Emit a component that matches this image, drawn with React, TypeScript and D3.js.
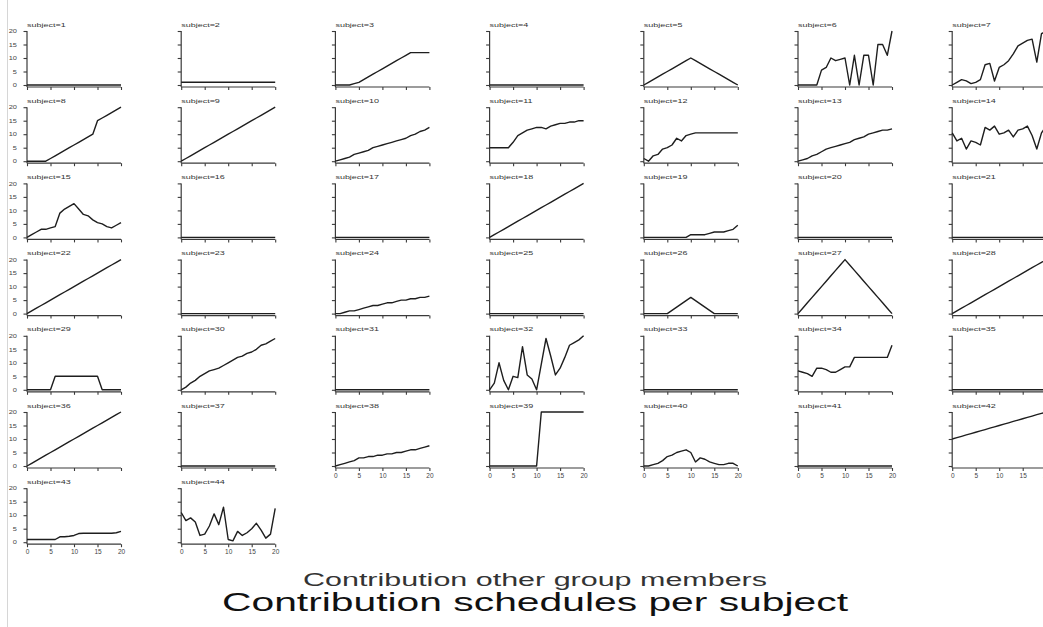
import React, { useEffect, useRef } from 'react';
import * as d3 from 'd3';

// contribution of the other group members (x)
const others = [0, 1, 2, 3, 4, 5, 6, 7, 8, 9, 10, 11, 12, 13, 14, 15, 16, 17, 18, 19, 20];
const xTicks = [0, 5, 10, 15, 20];
const yTicks = [0, 5, 10, 15, 20];

// own contribution per subject
const s1 = [0, 0, 0, 0, 0, 0, 0, 0, 0, 0, 0, 0, 0, 0, 0, 0, 0, 0, 0, 0, 0];
const s2 = [1, 1, 1, 1, 1, 1, 1, 1, 1, 1, 1, 1, 1, 1, 1, 1, 1, 1, 1, 1, 1];
const s3 = [0, 0, 0, 0, 0.5, 1, 2, 3, 4, 5, 6, 7, 8, 9, 10, 11, 12, 12, 12, 12, 12];
const s4 = [0, 0, 0, 0, 0, 0, 0, 0, 0, 0, 0, 0, 0, 0, 0, 0, 0, 0, 0, 0, 0];
const s5 = [0, 1, 2, 3, 4, 5, 6, 7, 8, 9, 10, 9, 8, 7, 6, 5, 4, 3, 2, 1, 0];
const s6 = [0, 0, 0, 0, 0, 5.5, 6.5, 10, 9, 9.5, 10, 0, 11, 0, 11, 11, 0, 15, 15, 11, 20];
const s7 = [0, 1, 2, 1.5, 0.5, 1, 2, 7.5, 8, 1.5, 6.5, 7.5, 9, 11.5, 14.5, 15.5, 16.5, 17, 8.5, 19, 20];
const s8 = [0, 0, 0, 0, 0, 1, 2, 3, 4, 5, 6, 7, 8, 9, 10, 15, 16, 17, 18, 19, 20];
const s9 = [0, 1, 2, 3, 4, 5, 6, 7, 8, 9, 10, 11, 12, 13, 14, 15, 16, 17, 18, 19, 20];
const s10 = [0, 0.5, 1, 1.5, 2.5, 3, 3.5, 4, 5, 5.5, 6, 6.5, 7, 7.5, 8, 8.5, 9.5, 10, 11, 11.5, 12.5];
const s11 = [5, 5, 5, 5, 5, 7, 9.5, 10.5, 11.5, 12, 12.5, 12.5, 12, 13, 13.5, 14, 14, 14.5, 14.5, 15, 15];
const s12 = [1, 0, 2, 2.5, 4.5, 5, 6, 8.5, 7.5, 9.5, 10, 10.5, 10.5, 10.5, 10.5, 10.5, 10.5, 10.5, 10.5, 10.5, 10.5];
const s13 = [0, 0.5, 1, 2, 2.5, 3.5, 4.5, 5, 5.5, 6, 6.5, 7, 8, 8.5, 9, 10, 10.5, 11, 11.5, 11.5, 12];
const s14 = [10.5, 7.5, 8.5, 4.5, 7.5, 7, 6, 12.5, 11.5, 13, 10, 10.5, 11.5, 9, 11.5, 12, 13, 9.5, 4.5, 10.5, 13];
const s15 = [0, 1, 2, 3, 3, 3.5, 4, 9, 10.5, 11.5, 12.5, 10.5, 8.5, 8, 6.5, 5.5, 5, 4, 3.5, 4.5, 5.5];
const s16 = [0, 0, 0, 0, 0, 0, 0, 0, 0, 0, 0, 0, 0, 0, 0, 0, 0, 0, 0, 0, 0];
const s17 = [0, 0, 0, 0, 0, 0, 0, 0, 0, 0, 0, 0, 0, 0, 0, 0, 0, 0, 0, 0, 0];
const s18 = [0, 1, 2, 3, 4, 5, 6, 7, 8, 9, 10, 11, 12, 13, 14, 15, 16, 17, 18, 19, 20];
const s19 = [0, 0, 0, 0, 0, 0, 0, 0, 0, 0, 1, 1, 1, 1, 1.5, 2, 2, 2, 2.5, 3, 4.5];
const s20 = [0, 0, 0, 0, 0, 0, 0, 0, 0, 0, 0, 0, 0, 0, 0, 0, 0, 0, 0, 0, 0];
const s21 = [0, 0, 0, 0, 0, 0, 0, 0, 0, 0, 0, 0, 0, 0, 0, 0, 0, 0, 0, 0, 0];
const s22 = [0, 1, 2, 3, 4, 5, 6, 7, 8, 9, 10, 11, 12, 13, 14, 15, 16, 17, 18, 19, 20];
const s23 = [0, 0, 0, 0, 0, 0, 0, 0, 0, 0, 0, 0, 0, 0, 0, 0, 0, 0, 0, 0, 0];
const s24 = [0, 0, 0.5, 1, 1, 1.5, 2, 2.5, 3, 3, 3.5, 4, 4, 4.5, 5, 5, 5.5, 5.5, 6, 6, 6.5];
const s25 = [0, 0, 0, 0, 0, 0, 0, 0, 0, 0, 0, 0, 0, 0, 0, 0, 0, 0, 0, 0, 0];
const s26 = [0, 0, 0, 0, 0, 0, 1.2, 2.4, 3.6, 4.8, 6, 4.8, 3.6, 2.4, 1.2, 0, 0, 0, 0, 0, 0];
const s27 = [0, 2, 4, 6, 8, 10, 12, 14, 16, 18, 20, 18, 16, 14, 12, 10, 8, 6, 4, 2, 0];
const s28 = [0, 1, 2, 3, 4, 5, 6, 7, 8, 9, 10, 11, 12, 13, 14, 15, 16, 17, 18, 19, 20];
const s29 = [0, 0, 0, 0, 0, 0, 5, 5, 5, 5, 5, 5, 5, 5, 5, 5, 0, 0, 0, 0, 0];
const s30 = [0, 1, 2.5, 3.5, 5, 6, 7, 7.5, 8, 9, 10, 11, 12, 12.5, 13.5, 14, 15, 16.5, 17, 18, 19];
const s31 = [0, 0, 0, 0, 0, 0, 0, 0, 0, 0, 0, 0, 0, 0, 0, 0, 0, 0, 0, 0, 0];
const s32 = [0, 2.5, 10, 3.5, 0, 5, 4.5, 16, 5.5, 4, 0, 9.5, 19, 12.5, 5.5, 8, 12, 16.5, 17.5, 18.5, 20];
const s33 = [0, 0, 0, 0, 0, 0, 0, 0, 0, 0, 0, 0, 0, 0, 0, 0, 0, 0, 0, 0, 0];
const s34 = [7, 6.5, 6, 5, 8, 8, 7.5, 6.5, 6.5, 7.5, 8.5, 8.5, 12, 12, 12, 12, 12, 12, 12, 12, 16.5];
const s35 = [0, 0, 0, 0, 0, 0, 0, 0, 0, 0, 0, 0, 0, 0, 0, 0, 0, 0, 0, 0, 0];
const s36 = [0, 1, 2, 3, 4, 5, 6, 7, 8, 9, 10, 11, 12, 13, 14, 15, 16, 17, 18, 19, 20];
const s37 = [0, 0, 0, 0, 0, 0, 0, 0, 0, 0, 0, 0, 0, 0, 0, 0, 0, 0, 0, 0, 0];
const s38 = [0, 0.5, 1, 1.5, 2, 3, 3, 3.5, 3.5, 4, 4, 4.5, 4.5, 5, 5, 5.5, 6, 6, 6.5, 7, 7.5];
const s39 = [0, 0, 0, 0, 0, 0, 0, 0, 0, 0, 0, 20, 20, 20, 20, 20, 20, 20, 20, 20, 20];
const s40 = [0, 0, 0.5, 1, 2, 3.5, 4, 5, 5.5, 6, 5, 1.5, 3, 2.5, 1.5, 1, 0.5, 0.5, 1, 1, 0];
const s41 = [0, 0, 0, 0, 0, 0, 0, 0, 0, 0, 0, 0, 0, 0, 0, 0, 0, 0, 0, 0, 0];
const s42 = [10, 10.5, 11, 11.5, 12, 12.5, 13, 13.5, 14, 14.5, 15, 15.5, 16, 16.5, 17, 17.5, 18, 18.5, 19, 19.5, 20];
const s43 = [1, 1, 1, 1, 1, 1, 1, 2, 2, 2.2, 2.5, 3.2, 3.3, 3.3, 3.3, 3.3, 3.3, 3.3, 3.3, 3.5, 4];
const s44 = [11, 8, 9, 7.5, 2.5, 3, 6, 10.5, 6.5, 13, 1, 0.5, 4, 2.5, 3.5, 5, 7, 4.5, 1.5, 3, 12.5];

const schedules = [
  s1, s2, s3, s4, s5, s6, s7, s8, s9, s10, s11, s12, s13, s14, s15, s16, s17, s18, s19, s20, s21, s22,
  s23, s24, s25, s26, s27, s28, s29, s30, s31, s32, s33, s34, s35, s36, s37, s38, s39, s40, s41, s42, s43, s44,
];

const xTitle = 'Contribution other group members';
const mainTitle = 'Contribution schedules per subject';

const W = 1043;
const H = 627;
const FONT = '"Liberation Sans", Arial, Helvetica, sans-serif';

export default function App() {
  const svgRef = useRef<SVGSVGElement>(null);

  useEffect(() => {
    const svg = d3.select(svgRef.current).html(null);
    const ncol = 7;
    const colStep = 154.2;
    const rowStep = 76.2;
    const left0 = 27;
    const top0 = 31;
    const pw = 94;
    const ph = 54;
    const axisCol = '#3a3a3a';

    // thin grey frame line at the left
    svg.append('line')
      .attr('x1', 7.5).attr('x2', 7.5).attr('y1', 0).attr('y2', H)
      .attr('stroke', '#d6d6d6').attr('stroke-width', 1);

    schedules.forEach((vals, i) => {
      const c = i % ncol;
      const r = Math.floor(i / ncol);
      const ox = left0 + c * colStep;
      const oy = top0 + r * rowStep;
      const base = oy + ph + 2;
      const lastInCol = i + ncol >= schedules.length;

      const x = d3.scaleLinear().domain([0, 20]).range([ox, ox + pw]);
      const y = d3.scaleLinear().domain([0, 20]).range([oy + ph, oy]);

      const g = svg.append('g');

      // title
      g.append('text')
        .attr('transform', `translate(${ox},${oy - 4.5}) scale(1.5,1)`)
        .attr('font-family', FONT).attr('font-size', 6).attr('fill', '#333')
        .text(`subject=${i + 1}`);

      // y axis
      const ya = g.append('g').attr('transform', `translate(${ox},0)`)
        .call(d3.axisLeft(y).tickValues(yTicks).tickSize(3.5).tickSizeOuter(0).tickPadding(4)
          .tickFormat((d) => (c === 0 ? String(d) : '')));
      ya.select('.domain').remove();
      ya.selectAll('line').attr('stroke', axisCol).attr('stroke-width', 1.1);
      ya.selectAll('text')
        .attr('font-family', FONT).attr('font-size', 5.5).attr('fill', '#444')
        .attr('transform', 'scale(1.35,1)');
      g.append('line')
        .attr('x1', ox).attr('x2', ox).attr('y1', y(20)).attr('y2', base)
        .attr('stroke', axisCol).attr('stroke-width', 1.2);

      // x axis
      const xa = g.append('g').attr('transform', `translate(0,${base})`)
        .call(d3.axisBottom(x).tickValues(xTicks).tickSize(3).tickSizeOuter(0).tickPadding(2)
          .tickFormat((d) => (lastInCol ? String(d) : '')));
      xa.select('.domain').remove();
      xa.selectAll('line').attr('stroke', axisCol).attr('stroke-width', 1.1);
      xa.selectAll('text')
        .attr('font-family', FONT).attr('font-size', 6.5).attr('fill', '#444');
      g.append('line')
        .attr('x1', x(0)).attr('x2', x(20)).attr('y1', base).attr('y2', base)
        .attr('stroke', axisCol).attr('stroke-width', 1.2);

      // schedule line
      const line = d3.line<number>()
        .x((_, k) => x(others[k]))
        .y((d) => y(d));
      g.append('path')
        .datum(vals)
        .attr('d', line)
        .attr('fill', 'none')
        .attr('stroke', '#1e1e1e')
        .attr('stroke-width', 1.4)
        .attr('stroke-linejoin', 'round');
    });

    svg.append('text')
      .attr('x', 303).attr('y', 586)
      .attr('textLength', 464).attr('lengthAdjust', 'spacingAndGlyphs')
      .attr('font-family', FONT).attr('font-size', 18).attr('fill', '#333')
      .text(xTitle);

    svg.append('text')
      .attr('x', 222).attr('y', 611)
      .attr('textLength', 626).attr('lengthAdjust', 'spacingAndGlyphs')
      .attr('font-family', FONT).attr('font-size', 25).attr('fill', '#111')
      .text(mainTitle);
  }, []);

  return (
    <svg
      ref={svgRef}
      width={W}
      height={H}
      style={{ position: 'absolute', left: 0, top: 0, background: '#fff' }}
    />
  );
}
